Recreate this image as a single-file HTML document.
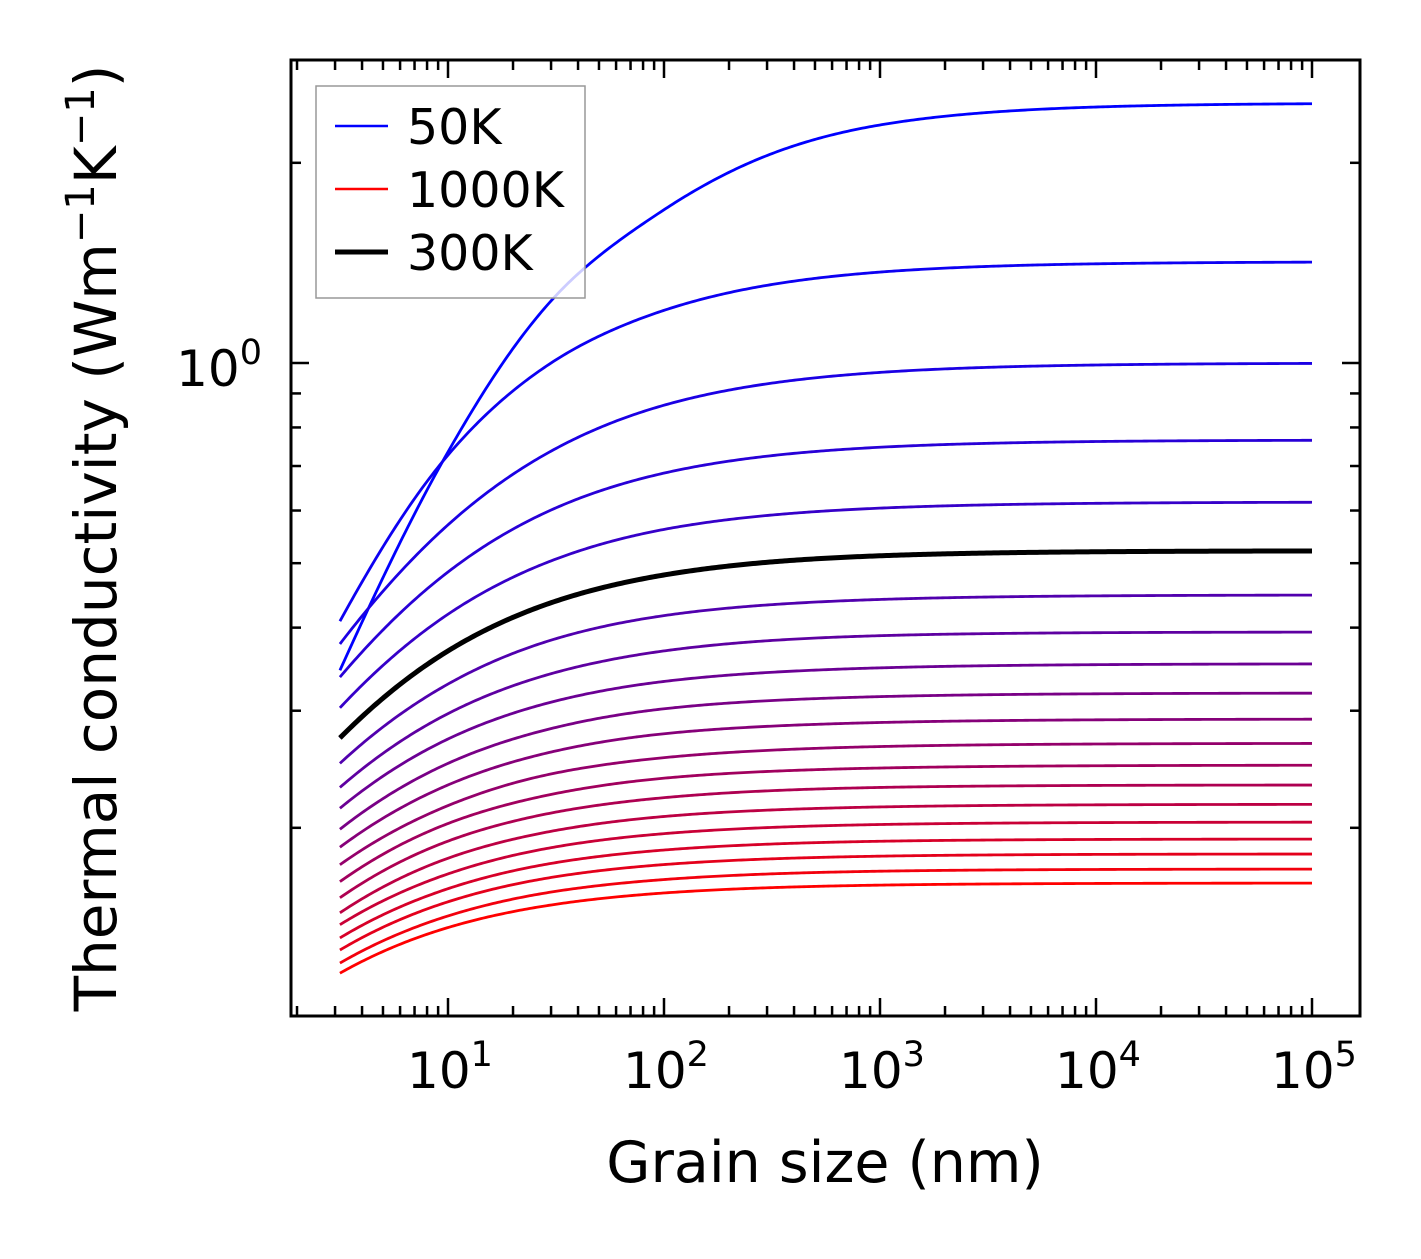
<!DOCTYPE html>
<html><head><meta charset="utf-8"><style>
html,body{margin:0;padding:0;background:#fff;}
svg text{font-family:"DejaVu Sans","Liberation Sans",sans-serif;fill:#000;}
</style></head><body>
<svg id="chart" width="1421" height="1254" viewBox="0 0 1421 1254" xmlns="http://www.w3.org/2000/svg">
<rect width="1421" height="1254" fill="#fff"/>
<g id="curves"></g>
<g id="ticks"></g>
<rect x="291" y="60" width="1069" height="956" fill="none" stroke="#000" stroke-width="3"/>
<g font-size="50" text-anchor="middle" id="xlabels"></g>
<text x="262" y="386" font-size="50" text-anchor="end">10<tspan dy="-22" font-size="35">0</tspan></text>
<text x="825" y="1182" font-size="57" text-anchor="middle">Grain size (nm)</text>
<text transform="translate(116,538) rotate(-90)" font-size="58" text-anchor="middle">Thermal conductivity (Wm<tspan dy="-22" font-size="40">−1</tspan><tspan dy="22">K</tspan><tspan dy="-22" font-size="40">−1</tspan><tspan dy="22">)</tspan></text>
<g>
<rect x="316" y="86" width="269" height="212" fill="#fff" fill-opacity="0.8" stroke="#999" stroke-width="1.5"/>
<line x1="335" y1="126" x2="388" y2="126" stroke="#0000ff" stroke-width="2.5"/>
<text x="407" y="144" font-size="49">50K</text>
<line x1="335" y1="189" x2="388" y2="189" stroke="#ff0000" stroke-width="2.5"/>
<text x="407" y="207" font-size="49">1000K</text>
<line x1="335" y1="252" x2="388" y2="252" stroke="#000" stroke-width="5"/>
<text x="407" y="270" font-size="49">300K</text>
</g>
</svg>
<script>
const grainSizes = [3.16, 10, 30, 100, 1000, 100000];
const temperatures = [50,100,150,200,250,300,350,400,450,500,550,600,650,700,750,800,850,900,950,1000];
const k50 = [0.345,0.735,1.24,1.70,2.28,2.46];
const k100 = [0.409,0.727,1.0,1.2,1.37,1.42];
const k150 = [0.378,0.571,0.737,0.864,0.968,1.0];
const k200 = [0.337,0.485,0.601,0.683,0.747,0.766];
const k250 = [0.303,0.419,0.504,0.562,0.605,0.618];
const k300 = [0.273,0.369,0.436,0.480,0.513,0.522];
const k350 = [0.250,0.329,0.383,0.417,0.441,0.448];
const k400 = [0.230,0.297,0.341,0.369,0.389,0.394];
const k450 = [0.214,0.272,0.309,0.332,0.348,0.353];
const k500 = [0.199,0.250,0.282,0.302,0.315,0.319];
const k550 = [0.187,0.232,0.260,0.277,0.288,0.2915];
const k600 = [0.176,0.216,0.241,0.255,0.265,0.268];
const k650 = [0.166,0.203,0.2245,0.2375,0.246,0.2485];
const k700 = [0.157,0.191,0.2105,0.222,0.230,0.232];
const k750 = [0.149,0.180,0.1976,0.208,0.215,0.217];
const k800 = [0.143,0.1705,0.1867,0.196,0.2023,0.204];
const k850 = [0.1366,0.162,0.1768,0.1852,0.1909,0.1924];
const k900 = [0.131,0.1548,0.1684,0.1761,0.1813,0.1827];
const k950 = [0.1252,0.1474,0.1601,0.1672,0.1721,0.1734];
const k1000 = [0.1209,0.1416,0.1531,0.1596,0.164,0.1652];
const series = [k50,k100,k150,k200,k250,k300,k350,k400,k450,k500,k550,k600,k650,k700,k750,k800,k850,k900,k950,k1000];
const highlightIndex = 5;
const xTickExps = [1,2,3,4,5];

const NS = "http://www.w3.org/2000/svg";
const X0 = 448, XD = 216, Y0 = 363, YD = 665;
function xs(d){ return X0 + (Math.log10(d) - 1) * XD; }
function ys(k){ return Y0 - Math.log10(k) * YD; }

// smooth saturating interpolation: u = log10(kmax/k - 1) interpolated with a cubic Hermite spline in log d
function curvePoints(vals){
  const n = vals.length, kmax = vals[n-1];
  const lx = grainSizes.map(Math.log10).slice(0, n-1);
  const u = [];
  for(let i=0;i<n-1;i++){ u.push(Math.log10(Math.max(kmax/vals[i]-1, 1e-6))); }
  const m = u.length, h=[], sl=[], t=new Array(m);
  for(let i=0;i<m-1;i++){ h.push(lx[i+1]-lx[i]); sl.push((u[i+1]-u[i])/h[i]); }
  t[0]=sl[0]; t[m-1]=sl[m-2];
  for(let i=1;i<m-1;i++){ t[i]=(sl[i-1]*h[i]+sl[i]*h[i-1])/(h[i]+h[i-1]); }
  function evalU(L){
    if(L >= lx[m-1]) return u[m-1] + t[m-1]*(L-lx[m-1]);
    let j=0; while(j<m-2 && L>lx[j+1]) j++;
    const s=(L-lx[j])/h[j], s2=s*s, s3=s2*s;
    return (2*s3-3*s2+1)*u[j]+(s3-2*s2+s)*h[j]*t[j]+(-2*s3+3*s2)*u[j+1]+(s3-s2)*h[j]*t[j+1];
  }
  const pts=[];
  const a = Math.log10(grainSizes[0]), b = Math.log10(grainSizes[n-1]), N = 400;
  for(let s=0;s<=N;s++){
    const L = a + (b-a)*s/N;
    const k = kmax/(1+Math.pow(10,evalU(L)));
    pts.push([Math.pow(10,L), k]);
  }
  return pts;
}
const curves = document.getElementById('curves');
function drawCurve(vals, color, width, name){
  const pts = curvePoints(vals);
  const p = document.createElementNS(NS,'path');
  p.setAttribute('d', pts.map((q,i)=>(i?'L':'M')+xs(q[0]).toFixed(2)+' '+ys(q[1]).toFixed(2)).join(' '));
  p.setAttribute('fill','none'); p.setAttribute('stroke',color); p.setAttribute('stroke-width',width);
  p.setAttribute('stroke-linejoin','round');
  
  
  curves.appendChild(p);
}
series.forEach((vals,i)=>{
  const f = i/(series.length-1);
  const c = 'rgb('+Math.round(255*f)+',0,'+Math.round(255*(1-f))+')';
  drawCurve(vals, c, 2.8, 'curve-'+temperatures[i]+'k');
});
drawCurve(series[highlightIndex], '#000', 5, 'curve-300k-highlight');

const ticks = document.getElementById('ticks');
function tick(x1,y1,x2,y2,name){
  const l=document.createElementNS(NS,'line');
  l.setAttribute('x1',x1);l.setAttribute('y1',y1);l.setAttribute('x2',x2);l.setAttribute('y2',y2);
  l.setAttribute('stroke','#000');l.setAttribute('stroke-width',2.5);
  
  
  ticks.appendChild(l);
}
for(let e=0;e<=5;e++){
  for(let m=1;m<=9;m++){
    const x=xs(m*Math.pow(10,e));
    if(x<292||x>1359) continue;
    const len = m===1?18:10;
    tick(x,1016,x,1016-len,'x-tick');
    tick(x,60,x,60+len,'x-tick-top');
  }
}
[0.2,0.3,0.4,0.5,0.6,0.7,0.8,0.9,1,2].forEach(v=>{
  const y=ys(v); const len = v===1?18:10;
  tick(291,y,291+len,y,'y-tick');
  tick(1360,y,1360-len,y,'y-tick-right');
});
const xl=document.getElementById('xlabels');
xTickExps.forEach(e=>{
  const t=document.createElementNS(NS,'text');
  t.setAttribute('x', xs(Math.pow(10,e))+2); t.setAttribute('y',1088);
  t.innerHTML='10<tspan dy="-22" font-size="35">'+e+'</tspan>';
  
  
  xl.appendChild(t);
});
</script>
</body></html>
